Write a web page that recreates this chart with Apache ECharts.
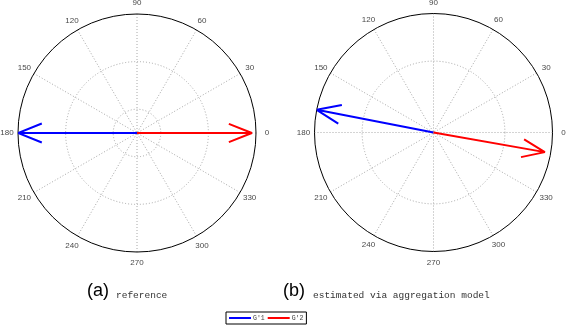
<!DOCTYPE html>
<html>
<head>
<meta charset="utf-8">
<script src="https://cdn.jsdelivr.net/npm/echarts@6/dist/echarts.min.js"></script>
<style>
html, body { margin: 0; padding: 0; background: #fff; }
#main { width: 567px; height: 328px; }
</style>
</head>
<body>
<div id="main"></div>
<script>
// angle tick labels, degrees
const angleTicks = [0, 30, 60, 90, 120, 150, 180, 210, 240, 270, 300, 330];
// vectors as [magnitude, angle in degrees]
const refG1 = [1.0, 180];
const refG2 = [0.965, 0];
const estG1 = [1.0, 169];
const estG2 = [0.95, 350];
// dotted rings (fraction of outer radius)
const ringsRef = [0.2, 0.6];
const ringsEst = [0.6];
const panelTags = ['(a)', '(b)'];
const panelNotes = ['reference', 'estimated via aggregation model'];
const seriesNames = ["G'1", "G'2"];

const sans = 'Liberation Sans, Arial, sans-serif';
const mono = 'Liberation Mono, Courier New, monospace';

// compass style arrow: shaft then two barbs, returned as polar [r, angle]
function arrow(vec) {
    const r = vec[0], a = vec[1] * Math.PI / 180;
    const shape = [[0, 0], [1, 0], [0.8, 0.08], [1, 0], [0.8, -0.08]];
    return shape.map(function (p) {
        const x = r * (p[0] * Math.cos(a) - p[1] * Math.sin(a));
        const y = r * (p[0] * Math.sin(a) + p[1] * Math.cos(a));
        let ang = Math.atan2(y, x) * 180 / Math.PI;
        if (ang < 0) ang += 360;
        return [Math.sqrt(x * x + y * y), ang];
    });
}

function angleAxis(i) {
    return {
        polarIndex: i,
        type: 'value',
        min: 0,
        max: 360,
        interval: 30,
        startAngle: 0,
        clockwise: false,
        axisLine: { lineStyle: { color: '#000', width: 1 } },
        axisTick: { show: false },
        axisLabel: { show: false },
        splitLine: { lineStyle: { color: '#a8a8a8', width: 1, type: [1, 2] } }
    };
}

function radiusAxis(i, rings) {
    return {
        polarIndex: i,
        type: 'value',
        min: 0,
        max: 1,
        axisLine: { show: false },
        axisLabel: { show: false },
        axisTick: { show: false, customValues: rings },
        splitLine: { lineStyle: { color: '#a8a8a8', width: 1, type: [1, 2] } }
    };
}

function tickLabels(i) {
    return {
        type: 'scatter',
        coordinateSystem: 'polar',
        polarIndex: i,
        symbolSize: 0,
        clip: false,
        silent: true,
        data: angleTicks.map(function (a) { return [1.093, a]; }),
        label: {
            show: true,
            position: 'inside',
            formatter: function (p) { return String(p.value[1]); },
            fontFamily: sans,
            fontSize: 8,
            color: '#111'
        }
    };
}

function vectorLine(i, name, color, vec) {
    return {
        name: name,
        type: 'line',
        coordinateSystem: 'polar',
        polarIndex: i,
        symbol: 'none',
        silent: true,
        lineStyle: { color: color, width: 2 },
        itemStyle: { color: color },
        data: arrow(vec)
    };
}

function titles(i, left, noteLeft) {
    return [
        {
            text: panelTags[i], left: left, top: 282, padding: 0,
            textStyle: { fontFamily: sans, fontSize: 18, fontWeight: 'normal', color: '#000' }
        },
        {
            text: panelNotes[i], left: noteLeft, top: 290, padding: 0,
            textStyle: { fontFamily: mono, fontSize: 9.5, fontWeight: 'normal', color: '#333' }
        }
    ];
}

const chart = echarts.init(document.getElementById('main'), null, { renderer: 'canvas' });
chart.setOption({
    animation: false,
    backgroundColor: '#fff',
    title: titles(0, 87, 116).concat(titles(1, 283, 313)),
    polar: [
        { center: [137, 133], radius: 119 },
        { center: [433.5, 132.5], radius: 119 }
    ],
    angleAxis: [angleAxis(0), angleAxis(1)],
    radiusAxis: [radiusAxis(0, ringsRef), radiusAxis(1, ringsEst)],
    legend: {
        data: seriesNames,
        icon: 'rect',
        left: 226,
        top: 312,
        orient: 'horizontal',
        padding: [2, 3],
        itemGap: 3,
        itemWidth: 22,
        itemHeight: 2,
        borderColor: '#000',
        borderWidth: 1,
        borderRadius: 0,
        textStyle: { fontFamily: mono, fontSize: 6.5, color: '#444', padding: [0, 0, 0, -3], lineHeight: 8 }
    },
    series: [
        tickLabels(0),
        tickLabels(1),
        vectorLine(0, seriesNames[0], '#0000ff', refG1),
        vectorLine(0, seriesNames[1], '#ff0000', refG2),
        vectorLine(1, seriesNames[0], '#0000ff', estG1),
        vectorLine(1, seriesNames[1], '#ff0000', estG2)
    ]
});
</script>
</body>
</html>
